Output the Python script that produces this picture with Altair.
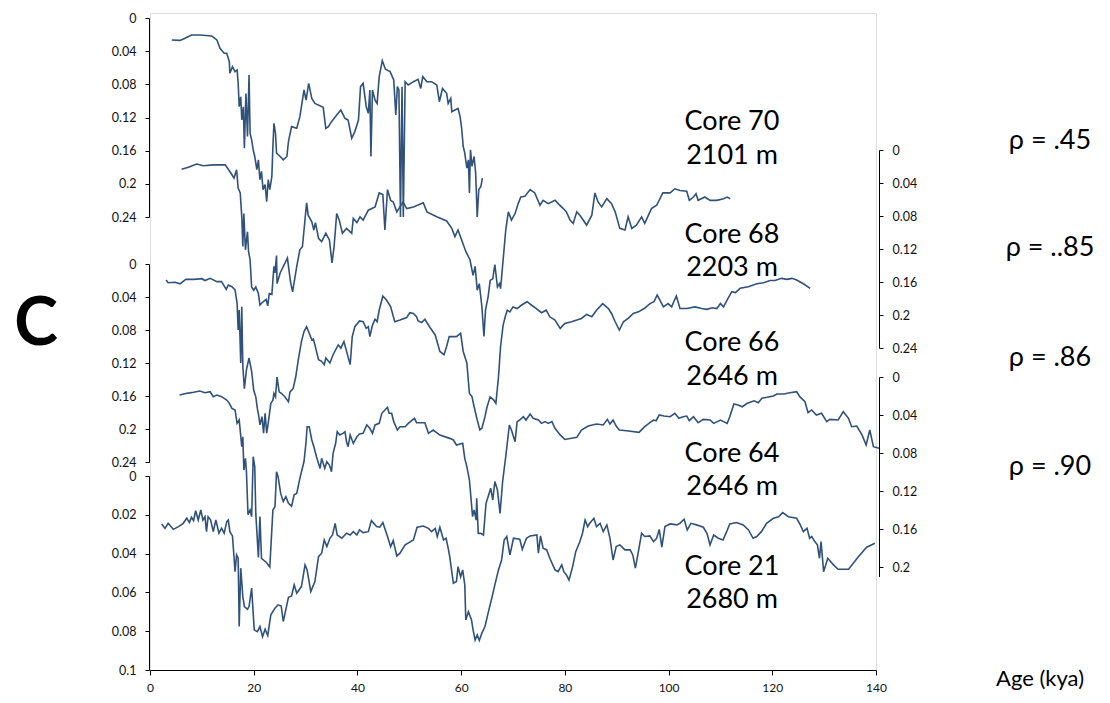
import altair as alt
import pandas as pd

# ---------------- data (age in kya, value on each core's own axis) ----------------
t70 = [4.2, 5.8, 6.75, 8.0, 9.6, 11.9, 12.9, 13.5, 14.3, 14.8, 15.3, 15.4, 15.9, 16.4, 16.8, 17.0, 17.2, 17.5,
       17.7, 18.0, 18.2, 18.5, 18.8, 19.1, 19.3, 19.6, 19.9, 20.2, 20.6, 20.9, 21.2, 21.5, 21.8, 22.2, 22.5, 22.8,
       23.1, 23.5, 23.7, 23.9, 24.2, 24.4, 25.1, 25.7, 26.4, 26.7, 27.3, 28.3, 28.9, 29.2, 29.7, 30.1, 30.6, 31.2,
       31.8, 33.4, 33.9, 34.4, 35.0, 36.0, 36.8, 37.6, 38.2, 38.9, 39.5, 40.2, 40.6, 41.1, 41.7, 42.1, 42.4, 42.6,
       42.9, 43.4, 43.8, 44.2, 44.8, 45.4, 46.3, 47.0, 47.4, 47.7, 48.0, 48.3, 48.6, 48.85, 49.2, 49.8, 50.8, 51.7,
       52.2, 52.6, 53.4, 54.3, 55.3, 55.8, 56.4, 57.2, 57.5, 58.0, 58.2, 58.8, 59.4, 59.8, 60.1, 60.4, 60.7, 61.1,
       61.4, 61.6, 61.8, 62.1, 62.5, 62.8, 63.1, 63.4, 63.8, 64.1]
v70 = [0.0265, 0.027, 0.0245, 0.0205, 0.0205, 0.0217, 0.0265, 0.0366, 0.0426, 0.0426, 0.0527, 0.0667, 0.0587,
       0.0647, 0.0627, 0.0784, 0.107, 0.095, 0.123, 0.107, 0.157, 0.091, 0.143, 0.0687, 0.139, 0.147, 0.159, 0.167,
       0.183, 0.171, 0.195, 0.185, 0.207, 0.201, 0.2215, 0.195, 0.207, 0.191, 0.155, 0.127, 0.139, 0.163, 0.167,
       0.171, 0.167, 0.149, 0.131, 0.133, 0.119, 0.107, 0.0868, 0.099, 0.0788, 0.097, 0.103, 0.1077, 0.133, 0.131,
       0.125, 0.117, 0.111, 0.121, 0.123, 0.145, 0.137, 0.123, 0.0828, 0.0788, 0.107, 0.115, 0.0868, 0.167, 0.0868,
       0.099, 0.103, 0.0708, 0.0515, 0.0617, 0.0647, 0.0748, 0.117, 0.0828, 0.0868, 0.24, 0.083, 0.24, 0.0768,
       0.0808, 0.0768, 0.074, 0.085, 0.0708, 0.0768, 0.0768, 0.0808, 0.101, 0.085, 0.0908, 0.103, 0.0969, 0.113,
       0.111, 0.109, 0.119, 0.133, 0.155, 0.163, 0.181, 0.171, 0.211, 0.159, 0.179, 0.167, 0.187, 0.24, 0.207,
       0.2035, 0.193]

t68 = [6.1, 7.4, 9.0, 10.3, 12.2, 14.5, 15.4, 16.2, 16.7, 17.0, 17.4, 17.7, 17.9, 18.1, 18.4, 18.8, 19.0, 19.3,
       19.6, 20.0, 20.4, 20.9, 21.2, 21.8, 22.4, 22.7, 23.0, 23.5, 23.9, 24.1, 24.4, 24.5, 25.1, 26.5, 27.1, 27.5,
       28.3, 28.9, 29.4, 29.7, 30.2, 30.5, 31.2, 31.6, 31.9, 32.5, 33.1, 33.9, 34.6, 35.1, 35.5, 36.0, 36.5, 37.1,
       37.9, 38.9, 39.2, 39.9, 40.5, 41.1, 42.1, 43.4, 44.2, 44.9, 45.3, 45.8, 46.4, 46.9, 47.6, 48.2, 48.8, 49.5,
       50.8, 52.7, 53.4, 55.3, 57.2, 58.2, 58.8, 59.4, 60.1, 60.9, 61.7, 62.3, 62.7, 63.1, 63.5, 64.0, 64.4, 64.7,
       65.2, 65.6, 66.1, 66.5, 67.0, 67.4, 67.6, 68.1, 68.6, 69.1, 69.7, 70.4, 71.0, 71.5, 72.3, 73.3, 74.2, 75.2,
       75.8, 76.8, 78.1, 78.7, 79.7, 80.3, 81.0, 81.6, 82.3, 82.9, 84.2, 85.2, 85.8, 86.4, 87.1, 88.1, 89.0, 89.7,
       90.6, 91.6, 92.2, 92.9, 93.8, 94.8, 95.4, 96.7, 97.7, 98.9, 100.3, 101.2, 102.2, 103.5, 104.0, 104.8, 105.3,
       105.7, 107.0, 108.0, 109.3, 110.6, 111.3, 111.9]
v68 = [0.0234, 0.021, 0.017, 0.019, 0.018, 0.018, 0.026, 0.034, 0.024, 0.046, 0.052, 0.081, 0.117, 0.077, 0.121,
       0.099, 0.123, 0.133, 0.166, 0.170, 0.166, 0.174, 0.188, 0.184, 0.181, 0.189, 0.174, 0.175, 0.141, 0.149,
       0.128, 0.162, 0.149, 0.131, 0.160, 0.172, 0.141, 0.121, 0.117, 0.097, 0.064, 0.079, 0.087, 0.097, 0.088,
       0.107, 0.111, 0.101, 0.109, 0.137, 0.117, 0.077, 0.085, 0.101, 0.095, 0.101, 0.083, 0.088, 0.081, 0.085,
       0.073, 0.069, 0.052, 0.054, 0.097, 0.048, 0.061, 0.063, 0.075, 0.069, 0.063, 0.071, 0.069, 0.064, 0.075,
       0.081, 0.086, 0.095, 0.105, 0.097, 0.109, 0.123, 0.133, 0.152, 0.141, 0.170, 0.162, 0.190, 0.226, 0.194,
       0.178, 0.158, 0.156, 0.139, 0.166, 0.162, 0.168, 0.133, 0.097, 0.075, 0.085, 0.077, 0.065, 0.057, 0.056,
       0.048, 0.052, 0.067, 0.061, 0.065, 0.061, 0.065, 0.071, 0.075, 0.085, 0.089, 0.075, 0.079, 0.091, 0.079,
       0.052, 0.063, 0.069, 0.059, 0.065, 0.075, 0.095, 0.097, 0.081, 0.095, 0.091, 0.081, 0.089, 0.071, 0.067,
       0.052, 0.052, 0.047, 0.049, 0.050, 0.061, 0.057, 0.053, 0.061, 0.057, 0.061, 0.061, 0.059, 0.057, 0.059]

t66 = [3.1, 3.5, 4.8, 5.8, 6.9, 8.4, 10.0, 10.6, 11.6, 12.9, 13.8, 14.7, 15.1, 15.8, 16.4, 16.8, 17.0, 17.2, 17.5,
       17.7, 17.9, 18.2, 18.6, 19.1, 19.6, 20.0, 20.4, 20.7, 21.0, 21.2, 21.6, 21.9, 22.2, 22.5, 22.8, 23.3, 23.7,
       23.9, 24.2, 24.5, 24.9, 25.4, 26.0, 26.7, 27.0, 27.6, 28.1, 28.6, 29.2, 29.7, 30.2, 30.7, 31.2, 31.5, 31.8,
       32.5, 33.1, 33.6, 33.9, 34.7, 35.3, 36.3, 36.8, 37.4, 38.0, 38.6, 39.0, 39.5, 40.4, 41.1, 41.7, 42.1, 42.4,
       42.9, 43.4, 43.8, 44.2, 44.9, 45.6, 46.4, 47.2, 48.2, 49.5, 50.1, 50.8, 51.4, 51.7, 52.4, 53.0, 54.0, 55.0,
       55.9, 56.7, 57.2, 57.7, 59.1, 59.9, 60.4, 61.1, 61.6, 62.1, 62.5, 63.1, 63.6, 64.0, 64.6, 65.0, 65.6, 66.3,
       66.7, 67.2, 67.6, 68.1, 68.5, 68.9, 69.4, 70.0, 70.8, 71.6, 72.7, 73.6, 74.5, 75.5, 76.4, 77.1, 78.1, 79.1,
       80.0, 81.3, 82.3, 83.2, 84.2, 85.2, 86.1, 87.3, 88.4, 89.0, 89.7, 90.5, 91.3, 92.2, 93.2, 94.2, 95.3, 96.4,
       97.2, 97.8, 98.3, 99.0, 99.9, 100.6, 101.0, 101.5, 102.2, 103.5, 105.1, 106.4, 107.4, 108.4, 109.3, 110.0,
       110.6, 111.3, 112.2, 112.9, 113.8, 115.4, 117.0, 118.3, 119.6, 120.5, 121.8, 122.8, 123.8, 124.7, 126.0,
       127.3]
v66 = [0.0194, 0.0227, 0.0222, 0.024, 0.0186, 0.0186, 0.0178, 0.020, 0.0174, 0.0214, 0.0214, 0.0307, 0.0255,
       0.0275, 0.0315, 0.0477, 0.080, 0.0558, 0.120, 0.0517, 0.124, 0.151, 0.128, 0.114, 0.130, 0.153, 0.161, 0.175,
       0.185, 0.195, 0.185, 0.205, 0.181, 0.205, 0.193, 0.169, 0.165, 0.157, 0.161, 0.137, 0.155, 0.157, 0.161,
       0.167, 0.155, 0.151, 0.137, 0.116, 0.094, 0.082, 0.076, 0.084, 0.092, 0.091, 0.098, 0.116, 0.118, 0.122,
       0.114, 0.120, 0.110, 0.098, 0.102, 0.094, 0.108, 0.122, 0.088, 0.076, 0.069, 0.070, 0.078, 0.076, 0.088,
       0.074, 0.067, 0.070, 0.0558, 0.0388, 0.0436, 0.0517, 0.070, 0.068, 0.065, 0.059, 0.060, 0.064, 0.069, 0.071,
       0.067, 0.077, 0.086, 0.106, 0.110, 0.100, 0.088, 0.088, 0.084, 0.106, 0.120, 0.157, 0.161, 0.173, 0.189,
       0.201, 0.199, 0.185, 0.173, 0.161, 0.165, 0.169, 0.137, 0.100, 0.074, 0.064, 0.056, 0.058, 0.052, 0.054,
       0.050, 0.0457, 0.050, 0.054, 0.059, 0.056, 0.064, 0.068, 0.078, 0.072, 0.070, 0.068, 0.066, 0.061, 0.064,
       0.056, 0.048, 0.054, 0.060, 0.070, 0.080, 0.070, 0.066, 0.060, 0.058, 0.054, 0.048, 0.0457, 0.0376, 0.0436,
       0.052, 0.048, 0.052, 0.0457, 0.0388, 0.054, 0.054, 0.052, 0.054, 0.055, 0.053, 0.054, 0.048, 0.052, 0.0436,
       0.0335, 0.0347, 0.0295, 0.0275, 0.024, 0.0227, 0.020, 0.020, 0.0174, 0.0186, 0.0174, 0.0194, 0.024, 0.0295]

t64 = [5.7, 7.1, 8.4, 9.6, 10.6, 11.6, 12.2, 12.9, 13.8, 14.8, 15.3, 15.8, 16.4, 16.8, 17.2, 17.7, 17.9, 18.1,
       18.4, 18.6, 18.9, 19.3, 19.6, 19.9, 20.2, 20.4, 20.9, 21.2, 21.5, 22.4, 23.1, 23.7, 24.1, 24.4, 24.7, 25.2,
       25.7, 26.2, 26.7, 27.3, 27.8, 28.3, 28.9, 29.7, 30.1, 30.3, 30.7, 31.2, 31.6, 32.1, 32.8, 33.1, 33.7, 34.1,
       34.6, 35.0, 35.3, 35.8, 36.1, 36.6, 37.2, 37.6, 37.9, 38.2, 38.6, 39.2, 39.9, 40.4, 41.1, 41.8, 42.4, 42.9,
       43.4, 44.2, 44.7, 45.8, 46.1, 46.6, 47.0, 47.7, 48.2, 49.2, 49.8, 51.0, 51.4, 53.0, 53.7, 54.6, 55.9, 57.8,
       58.5, 59.1, 60.3, 60.7, 61.1, 61.6, 61.9, 62.2, 62.5, 62.9, 63.0, 63.3, 63.8, 64.3, 64.8, 65.2, 65.7, 66.1,
       66.5, 67.0, 67.5, 68.0, 68.6, 69.3, 69.7, 70.4, 70.8, 71.3, 72.0, 72.5, 73.3, 73.9, 74.9, 75.5, 76.2, 76.8,
       77.5, 78.1, 79.1, 80.0, 82.3, 83.2, 84.5, 86.1, 87.4, 88.2, 88.7, 89.3, 89.9, 90.5, 91.9, 94.3, 95.4, 96.4,
       97.1, 97.6, 98.2, 99.1, 100.3, 101.2, 102.0, 102.8, 103.5, 104.0, 104.8, 105.7, 106.7, 108.0, 108.7, 110.0,
       111.3, 111.8, 112.6, 113.4, 114.2, 115.2, 116.5, 117.3, 118.0, 119.0, 120.2, 120.9, 122.2, 123.4, 124.7,
       125.3, 126.3, 126.9, 127.6, 128.5, 129.5, 130.5, 131.1, 132.7, 133.7, 134.7, 135.3, 136.3, 137.3, 138.1,
       138.8, 139.5, 140.6]
v64 = [0.019, 0.0172, 0.0161, 0.0147, 0.0165, 0.0155, 0.0207, 0.019, 0.0207, 0.0242, 0.0277, 0.033, 0.0347, 0.0488,
       0.0453, 0.0734, 0.0629, 0.098, 0.0856, 0.0997, 0.145, 0.140, 0.147, 0.0839, 0.0944, 0.1436, 0.19, 0.147,
       0.191, 0.195, 0.200, 0.140, 0.1365, 0.0997, 0.105, 0.1225, 0.131, 0.126, 0.133, 0.136, 0.124, 0.1225, 0.1067,
       0.089, 0.068, 0.0523, 0.0523, 0.0663, 0.0734, 0.0839, 0.0962, 0.0856, 0.0962, 0.0892, 0.0927, 0.0997, 0.0804,
       0.0698, 0.0576, 0.0611, 0.0593, 0.0576, 0.0681, 0.0734, 0.0611, 0.0698, 0.0629, 0.060, 0.0593, 0.0505, 0.054,
       0.0593, 0.0505, 0.0488, 0.0382, 0.0319, 0.0382, 0.0382, 0.047, 0.0558, 0.0523, 0.0523, 0.0488, 0.0435, 0.0481,
       0.0481, 0.0593, 0.0558, 0.0611, 0.0646, 0.0663, 0.0716, 0.0698, 0.0856, 0.0944, 0.1085, 0.1277, 0.147, 0.140,
       0.1506, 0.1277, 0.1646, 0.1646, 0.1664, 0.133, 0.126, 0.117, 0.1295, 0.110, 0.119, 0.1436, 0.110, 0.0839,
       0.0505, 0.0558, 0.0681, 0.047, 0.0453, 0.0418, 0.0453, 0.039, 0.0435, 0.0453, 0.0488, 0.047, 0.0488, 0.047,
       0.054, 0.061, 0.0657, 0.0635, 0.0558, 0.0516, 0.0495, 0.0505, 0.0446, 0.0495, 0.0453, 0.0516, 0.0558, 0.0565,
       0.0582, 0.0523, 0.0481, 0.0453, 0.046, 0.040, 0.0411, 0.0418, 0.0382, 0.0435, 0.0418, 0.0411, 0.046, 0.0418,
       0.0481, 0.0446, 0.0453, 0.0488, 0.0453, 0.0488, 0.0418, 0.0284, 0.0295, 0.0313, 0.0277, 0.025, 0.027, 0.0224,
       0.0214, 0.020, 0.0179, 0.0179, 0.0165, 0.0155, 0.0207, 0.026, 0.0376, 0.0347, 0.040, 0.0382, 0.047, 0.0446,
       0.0453, 0.0365, 0.0435, 0.0523, 0.0516, 0.061, 0.0716, 0.0558, 0.0734, 0.0751]

t21 = [2.25, 2.9, 3.5, 4.5, 5.5, 6.4, 7.1, 7.6, 8.0, 8.4, 8.8, 9.3, 9.8, 10.2, 10.6, 10.9, 11.2, 11.7, 12.2, 12.7,
       13.3, 13.8, 14.3, 14.8, 15.1, 15.4, 15.9, 16.2, 16.4, 16.7, 17.0, 17.2, 17.5, 17.9, 18.2, 18.8, 19.1, 19.6,
       20.1, 20.7, 21.2, 21.7, 22.2, 22.7, 23.3, 24.1, 24.7, 25.3, 25.7, 26.7, 27.3, 27.8, 28.3, 29.2, 29.9, 30.3,
       31.0, 31.8, 32.5, 33.1, 33.6, 34.1, 34.7, 35.2, 35.7, 36.1, 37.0, 37.9, 38.6, 39.2, 39.9, 40.4, 41.1, 42.1,
       42.7, 43.7, 44.3, 44.9, 45.8, 46.4, 46.9, 47.6, 48.2, 49.2, 50.8, 51.5, 52.7, 53.7, 54.3, 55.0, 55.4, 55.9,
       56.6, 57.1, 57.5, 57.8, 58.5, 59.1, 59.4, 59.9, 60.3, 60.7, 60.9, 61.4, 62.0, 62.3, 62.7, 63.1, 63.5, 64.0,
       64.6, 65.2, 65.9, 66.5, 67.2, 67.8, 68.3, 68.8, 69.4, 70.1, 71.3, 71.8, 72.6, 73.3, 74.6, 74.9, 75.3, 75.8,
       76.5, 77.1, 78.1, 78.7, 79.4, 79.8, 80.3, 80.8, 81.5, 82.1, 82.9, 83.4, 83.9, 84.4, 84.8, 85.6, 86.1, 86.8,
       87.4, 88.1, 88.7, 89.3, 89.9, 90.6, 91.6, 92.6, 93.1, 93.6, 94.3, 94.8, 95.4, 96.4, 97.1, 97.7, 98.2, 98.7,
       99.3, 100.3, 101.6, 102.2, 103.0, 103.6, 104.3, 105.4, 106.7, 107.4, 108.0, 108.7, 109.6, 110.5, 111.2,
       111.8, 113.1, 114.4, 115.4, 116.3, 117.0, 117.9, 118.9, 120.2, 121.2, 122.0, 123.1, 124.7, 125.4, 126.0,
       126.7, 127.2, 127.6, 128.2, 128.7, 129.1, 129.4, 129.9, 130.7, 131.8, 132.7, 134.7, 136.6, 138.2, 139.8]
v21 = [0.0247, 0.0270, 0.0244, 0.0275, 0.0261, 0.0244, 0.0218, 0.0240, 0.0213, 0.0230, 0.0179, 0.0227, 0.0175,
       0.0227, 0.0210, 0.0287, 0.0210, 0.0227, 0.0287, 0.0227, 0.0295, 0.0269, 0.0295, 0.0235, 0.0227, 0.0287,
       0.0309, 0.0416, 0.0493, 0.0407, 0.0424, 0.0776, 0.0475, 0.0622, 0.0673, 0.0687, 0.0673, 0.0578, 0.0793,
       0.0802, 0.0776, 0.0828, 0.0790, 0.0822, 0.0716, 0.0681, 0.0664, 0.0670, 0.0750, 0.0625, 0.0618, 0.0561,
       0.0604, 0.0570, 0.0458, 0.0484, 0.0596, 0.0544, 0.0416, 0.0398, 0.0330, 0.0364, 0.0321, 0.0304, 0.0244,
       0.0304, 0.0321, 0.0295, 0.0304, 0.0287, 0.0304, 0.0278, 0.0292, 0.0287, 0.0230, 0.0261, 0.0264, 0.0240,
       0.0312, 0.0364, 0.0333, 0.0412, 0.0398, 0.0355, 0.0330, 0.0264, 0.0258, 0.0270, 0.0287, 0.0270, 0.0312,
       0.0264, 0.0330, 0.0321, 0.0372, 0.0416, 0.0553, 0.0544, 0.0467, 0.0519, 0.0484, 0.0561, 0.0742, 0.0699,
       0.0742, 0.0793, 0.0845, 0.0819, 0.0848, 0.0810, 0.0776, 0.0707, 0.0630, 0.0561, 0.0484, 0.0433, 0.0330,
       0.0312, 0.0407, 0.0321, 0.0326, 0.0378, 0.0321, 0.0309, 0.0304, 0.0398, 0.0309, 0.0372, 0.0381, 0.0424,
       0.0484, 0.0493, 0.0458, 0.0493, 0.0510, 0.0536, 0.0467, 0.0390, 0.0338, 0.0295, 0.0227, 0.0261, 0.0244,
       0.0218, 0.0261, 0.0244, 0.0287, 0.0252, 0.0321, 0.0433, 0.0364, 0.0355, 0.0381, 0.0381, 0.0407, 0.0475,
       0.0372, 0.0295, 0.0312, 0.0309, 0.0338, 0.0321, 0.0275, 0.0367, 0.0261, 0.0247, 0.0252, 0.0244, 0.0223,
       0.0278, 0.0244, 0.0252, 0.0264, 0.0295, 0.0355, 0.0304, 0.0321, 0.0330, 0.0287, 0.0247, 0.0240, 0.0252,
       0.0278, 0.0321, 0.0312, 0.0287, 0.0244, 0.0218, 0.0210, 0.0189, 0.0210, 0.0218, 0.0252, 0.0287, 0.0269,
       0.0321, 0.0312, 0.0338, 0.0355, 0.0424, 0.0338, 0.0493, 0.0424, 0.0458, 0.0481, 0.0481, 0.0416, 0.0367,
       0.0347]

x_ticks = [0, 20, 40, 60, 80, 100, 120, 140]
ticks_24 = [0, 0.04, 0.08, 0.12, 0.16, 0.2, 0.24]
ticks_20 = [0, 0.04, 0.08, 0.12, 0.16, 0.2]
ticks_10 = [0, 0.02, 0.04, 0.06, 0.08, 0.1]

core_names = ["Core 70", "Core 68", "Core 66", "Core 64", "Core 21"]
core_depths = ["2101 m", "2203 m", "2646 m", "2646 m", "2680 m"]
rho_labels = ["ρ = .45", "ρ = ..85", "ρ = .86", "ρ = .90"]

# ---------------- styling / layout ----------------
LINE = "#30527a"
FONT = "Lato"
W, H = 726, 657

x_enc = alt.X("age:Q",
              scale=alt.Scale(domain=[0, 140], nice=False, zero=False),
              axis=alt.Axis(values=x_ticks, title=None, grid=False, domainColor="#000", tickColor="#000",
                            tickSize=5, labelFont=FONT, labelFontSize=12, labelColor="#111",
                            labelPadding=7, labelFlush=False))


def core_layer(t, v, dom, rng, ticks, orient, offset):
    df = pd.DataFrame({"age": t, "val": v})
    return alt.Chart(df).mark_line(color=LINE, strokeWidth=1.6).encode(
        x=x_enc,
        y=alt.Y("val:Q",
                scale=alt.Scale(domain=dom, range=rng, nice=False, zero=False),
                axis=alt.Axis(orient=orient, values=ticks, format="~g", title=None, grid=False,
                              offset=offset, domainColor="#000", tickColor="#000", tickSize=4,
                              labelFont=FONT, labelFontSize=12.5, labelColor="#111", labelPadding=9,
                              labelFlush=False, labelOverlap=False)),
    )


l70 = core_layer(t70, v70, [0, 0.24], [5, 204], ticks_24, "left", 1)
l68 = core_layer(t68, v68, [0, 0.24], [137, 335], ticks_24, "right", 3)
l66 = core_layer(t66, v66, [0, 0.24], [251, 449], ticks_24, "left", 1)
l64 = core_layer(t64, v64, [0, 0.21], [364, 563.5], ticks_20, "right", 3)
l21 = core_layer(t21, v21, [0, 0.1], [463, 657], ticks_10, "left", 1)

# annotation text (layout positions in plot pixels)
lab_rows = []
lab_y = [(109, 143), (222, 255), (330, 364), (441, 474), (554, 587)]
for name, depth, (y1, y2) in zip(core_names, core_depths, lab_y):
    lab_rows.append({"txt": name, "px": 582, "py": y1})
    lab_rows.append({"txt": depth, "px": 582, "py": y2})
lab_df = pd.DataFrame(lab_rows)
rho_df = pd.DataFrame({"txt": rho_labels, "px": [900, 900, 900, 900], "py": [128, 235, 345, 454]})
c_df = pd.DataFrame({"txt": ["C"], "px": [-114], "py": [312]})
age_df = pd.DataFrame({"txt": ["Age (kya)"], "px": [890], "py": [666]})


def text_layer(df, size, weight="normal"):
    return alt.Chart(df).mark_text(font=FONT, fontSize=size, fontWeight=weight, color="#000",
                                   align="center", baseline="middle").encode(
        x=alt.X("px:Q", scale=None, axis=None),
        y=alt.Y("py:Q", scale=None, axis=None),
        text="txt:N",
    )


chart = alt.layer(
    l70, l68, l66, l64, l21,
    text_layer(lab_df, 27),
    text_layer(rho_df, 27),
    text_layer(c_df, 66, "bold"),
    text_layer(age_df, 22),
).resolve_scale(y="independent").resolve_axis(y="independent").properties(
    width=W, height=H,
    autosize=alt.AutoSizeParams(type="none"),
    padding={"left": 142, "top": 5, "right": 226, "bottom": 25},
).configure_view(stroke=None).configure(background="white")

chart.save("out.html", embed_options={"renderer": "svg", "actions": False})
